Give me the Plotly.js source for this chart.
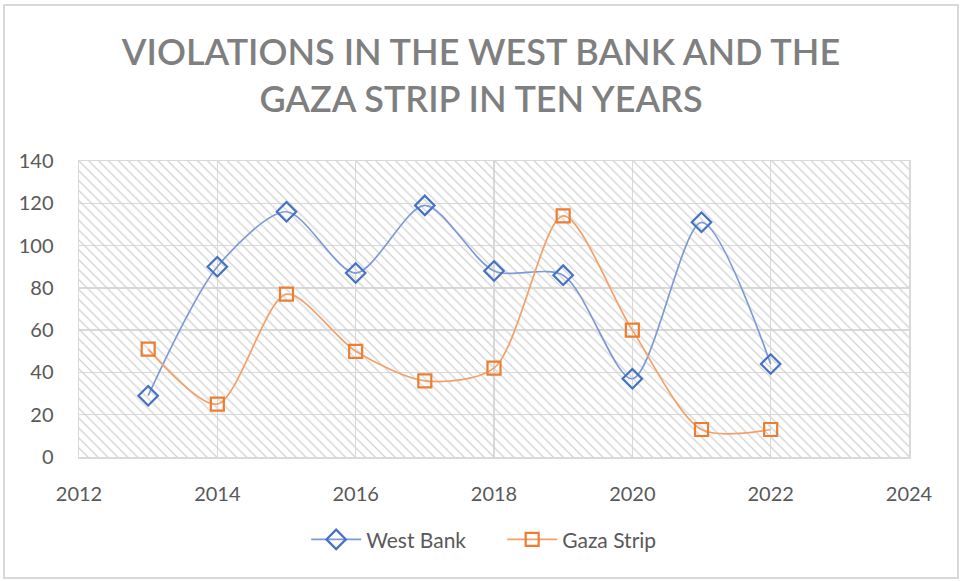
<!DOCTYPE html>
<html>
<head>
<meta charset="utf-8">
<script src="https://cdn.plot.ly/plotly-3.0.1.min.js"></script>
<style>
  html, body { margin: 0; padding: 0; background: #fff; }
  #wrap { position: relative; width: 962px; height: 581px; }
  #chart { width: 962px; height: 581px; }
  #frame { position: absolute; left: 3px; top: 4px; width: 952px; height: 571px;
           border: 2px solid #d9d9d9; pointer-events: none; }
</style>
</head>
<body>
<div id="wrap"><div id="chart"></div><div id="frame"></div></div>
<script>
const years = [2013, 2014, 2015, 2016, 2017, 2018, 2019, 2020, 2021, 2022];
const westBank = [29, 90, 116, 87, 119, 88, 86, 37, 111, 44];
const gazaStrip = [51, 25, 77, 50, 36, 42, 114, 60, 13, 13];
const xRange = [2012, 2024];
const yRange = [0, 140];
const titleText = 'VIOLATIONS IN THE WEST BANK AND THE<br>GAZA STRIP IN TEN YEARS';

const hatch = {
  x: [xRange[0], xRange[1], xRange[1], xRange[0], xRange[0]],
  y: [yRange[0], yRange[0], yRange[1], yRange[1], yRange[0]],
  mode: 'lines', fill: 'toself', line: {width: 0},
  fillcolor: 'rgba(0,0,0,0)',
  fillpattern: {shape: '\\', fgcolor: '#d2d2d2', bgcolor: 'rgba(0,0,0,0)', size: 7, solidity: 0.18},
  hoverinfo: 'skip', showlegend: false
};

const wb = {
  x: years, y: westBank, name: 'West Bank', mode: 'lines+markers',
  line: {shape: 'spline', smoothing: 0.8, color: '#7c9ad6', width: 1.7},
  marker: {symbol: 'diamond-open', size: 15, color: '#4472C4', line: {width: 2.2, color: '#4472C4'}}
};
const gz = {
  x: years, y: gazaStrip, name: 'Gaza Strip', mode: 'lines+markers',
  line: {shape: 'spline', smoothing: 0.8, color: '#f3a069', width: 1.7},
  marker: {symbol: 'square-open', size: 13, color: '#ED7D31', line: {width: 2.2, color: '#ED7D31'}}
};

const layout = {
  width: 962, height: 581,
  margin: {l: 79, r: 53, t: 161, b: 124},
  paper_bgcolor: '#ffffff', plot_bgcolor: '#ffffff',
  font: {family: 'Lato, "Open Sans", sans-serif', color: '#595959', size: 18},
  title: {text: titleText, x: 0.5, xref: 'container', xanchor: 'center',
          y: 0.888, yref: 'container', yanchor: 'top',
          font: {family: 'Lato, "Open Sans", sans-serif', size: 36, color: '#7f7f7f', weight: 600}},
  xaxis: {range: xRange, dtick: 2, tick0: 2012, showgrid: true, gridcolor: '#d9d9d9', gridwidth: 1.5,
          showline: true, linecolor: '#d9d9d9', linewidth: 1.5, mirror: true, zeroline: false,
          ticks: '', ticklabelstandoff: 18, tickfont: {size: 20, color: '#595959'}},
  yaxis: {range: yRange, dtick: 20, showgrid: true, gridcolor: '#d9d9d9', gridwidth: 1.5,
          showline: true, linecolor: '#d9d9d9', linewidth: 1.5, mirror: true, zeroline: false,
          ticks: '', ticklabelstandoff: 20, tickfont: {size: 20, color: '#595959'}},
  legend: {orientation: 'h', x: 0.522, xref: 'container', xanchor: 'center',
           y: 0.071, yref: 'container', yanchor: 'middle',
           font: {size: 21, color: '#595959'}, itemwidth: 50, traceorder: 'normal',
           entrywidth: 131, entrywidthmode: 'pixels'},
  showlegend: true
};

Plotly.newPlot('chart', [hatch, wb, gz], layout, {displayModeBar: false, staticPlot: true});
</script>
</body>
</html>
